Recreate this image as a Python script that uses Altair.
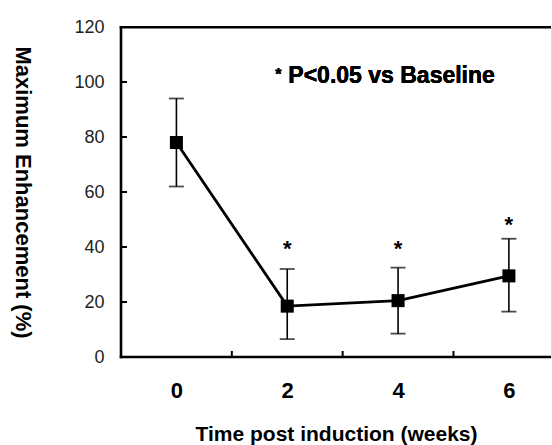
import altair as alt
import pandas as pd

weeks = [0, 2, 4, 6]
means = [78, 18.5, 20.5, 29.5]
err_hi = [94, 32, 32.5, 43]
err_lo = [62, 6.5, 8.5, 16.5]
star_weeks = [2, 4, 6]
star_vals = [40.5, 40.5, 49]
y_tick_values = [0, 20, 40, 60, 80, 100, 120]
y_inner_ticks = [20, 40, 60, 80, 100]
x_label_values = [0, 2, 4, 6]
x_inner_ticks = [1, 3, 5]

FONT = "Liberation Sans"

df = pd.DataFrame({"week": weeks, "mean": means, "hi": err_hi, "lo": err_lo})
stars = pd.DataFrame({"week": star_weeks, "y": star_vals})
yt = pd.DataFrame({"v": y_inner_ticks})
xt = pd.DataFrame({"v": x_inner_ticks})

xscale = alt.Scale(domain=[-1, 6.76], nice=False, zero=False)
yscale = alt.Scale(domain=[0, 120], nice=False)

xaxis = alt.Axis(values=x_label_values, format="d", ticks=False, grid=False, domain=False,
                 labelFont=FONT, labelFontSize=22, labelFontWeight="bold",
                 labelColor="black", labelPadding=23,
                 title="Time post induction (weeks)", titleFont=FONT, titleFontSize=21,
                 titleFontWeight="bold", titleColor="black", titlePadding=22)
yaxis = alt.Axis(values=y_tick_values, format="d", ticks=False, grid=False, domain=False,
                 labelFont=FONT, labelFontSize=18, labelColor="#222",
                 labelPadding=17, labelBaseline="middle",
                 title="Maximum Enhancement (%)", titleFont=FONT, titleFontSize=22,
                 titleFontWeight="bold", titleColor="black", titleAngle=90,
                 titleX=-99, titleY=165, titleAlign="center", titleBaseline="middle")

base = alt.Chart(df)

line = base.mark_line(color="black", strokeWidth=2.8).encode(
    x=alt.X("week:Q", scale=xscale, axis=xaxis),
    y=alt.Y("mean:Q", scale=yscale, axis=yaxis),
)
errs = base.mark_rule(color="black", strokeWidth=1.6).encode(
    x="week:Q", y="lo:Q", y2="hi:Q"
)
cap_hi = base.mark_tick(color="black", orient="horizontal", size=15, thickness=1.8).encode(
    x="week:Q", y="hi:Q"
)
cap_lo = base.mark_tick(color="black", orient="horizontal", size=15, thickness=1.8).encode(
    x="week:Q", y="lo:Q"
)
pts = base.mark_square(color="black", size=170, opacity=1).encode(
    x="week:Q", y="mean:Q"
)
star_marks = alt.Chart(stars).mark_text(font=FONT, fontSize=22, fontWeight="bold",
                                        color="black", baseline="middle", dy=3).encode(
    x="week:Q", y="y:Q", text=alt.value("*")
)
frame = alt.Chart(pd.DataFrame({"k": [0]}))
top = frame.mark_rect(color="black").encode(
    y=alt.value(-1), y2=alt.value(1.5), x=alt.value(-1.3), x2=alt.value(430))
bottom = frame.mark_rect(color="black").encode(
    y=alt.value(328.7), y2=alt.value(331.3), x=alt.value(-1.3), x2=alt.value(430))
left = frame.mark_rect(color="black").encode(
    x=alt.value(-1.3), x2=alt.value(1.3), y=alt.value(-1), y2=alt.value(331.3))
ytk = alt.Chart(yt).mark_rect(color="black", height=2).encode(
    y="v:Q", x=alt.value(0), x2=alt.value(6)
)
xtk = alt.Chart(xt).mark_rect(color="black", width=2).encode(
    x="v:Q", y=alt.value(330), y2=alt.value(324)
)
note_star = alt.Chart(df).mark_text(font=FONT, fontSize=16, fontWeight="bold", color="black",
                                    align="center", baseline="middle", dy=0).encode(
    x=alt.datum(1.84), y=alt.datum(102.5), text=alt.value("*")
)
note = alt.Chart(df).mark_text(font=FONT, fontSize=23, fontWeight="bold", color="black",
                               align="left", baseline="middle").encode(
    x=alt.datum(2.02), y=alt.datum(102.3), text=alt.value("P<0.05 vs Baseline")
)

chart = alt.layer(line, top, bottom, left, ytk, xtk, errs, cap_hi, cap_lo, pts, star_marks,
                  note_star, note).properties(
    width=430, height=330,
    autosize=alt.AutoSizeParams(type="none"),
    padding={"left": 121, "top": 27, "right": 1, "bottom": 88},
).configure_view(stroke=None).configure(background="white")

chart.save("out.html", embed_options={"renderer": "svg", "actions": False})
